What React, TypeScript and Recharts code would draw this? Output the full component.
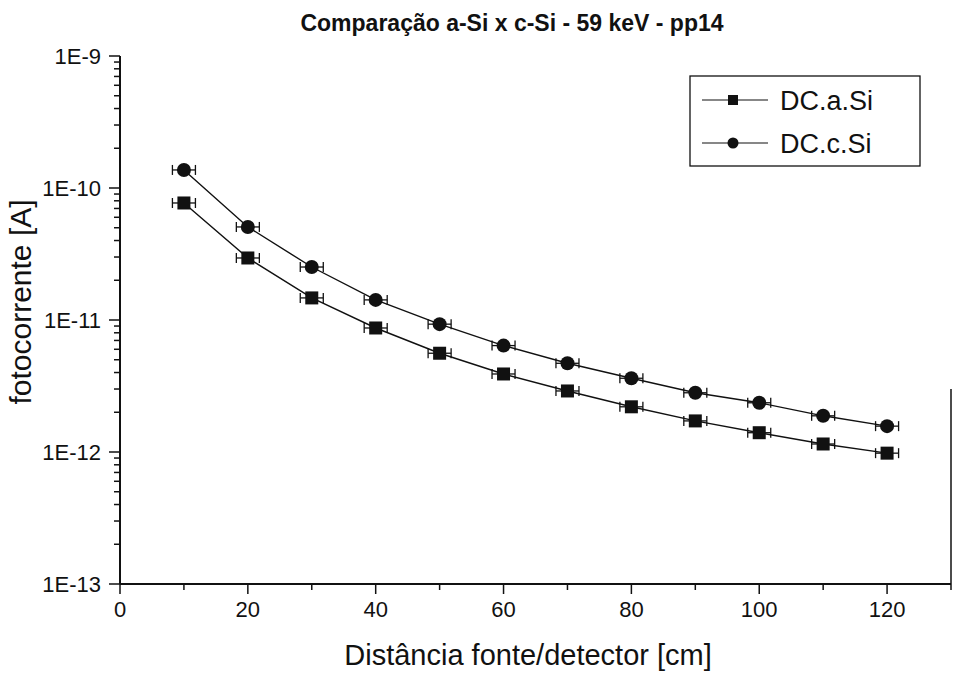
import { ComposedChart, Line, Scatter, XAxis, YAxis, ErrorBar, ReferenceLine } from 'recharts'

// distance source/detector [cm]
const distances = [10, 20, 30, 40, 50, 60, 70, 80, 90, 100, 110, 120]
// photocurrent [A]
const aSi = [7.7e-11, 2.95e-11, 1.47e-11, 8.7e-12, 5.6e-12, 3.9e-12, 2.9e-12, 2.2e-12, 1.72e-12, 1.4e-12, 1.15e-12, 9.8e-13]
const cSi = [1.37e-10, 5.07e-11, 2.52e-11, 1.42e-11, 9.3e-12, 6.4e-12, 4.7e-12, 3.62e-12, 2.81e-12, 2.36e-12, 1.88e-12, 1.57e-12]
// horizontal error [cm]
const xErr = [1.8, 1.8, 1.8, 1.8, 1.8, 1.8, 1.8, 1.8, 1.8, 1.8, 1.8, 1.8]

const xTicks = [0, 10, 20, 30, 40, 50, 60, 70, 80, 90, 100, 110, 120, 130]
const xLabels = ['0', '', '20', '', '40', '', '60', '', '80', '', '100', '', '120', '']
const yMajor = [1e-13, 1e-12, 1e-11, 1e-10, 1e-9]
const yLabels = ['1E-13', '1E-12', '1E-11', '1E-10', '1E-9']

const yTicks: number[] = []
yMajor.forEach((m, i) => {
  yTicks.push(m)
  if (i < yMajor.length - 1) {
    for (let k = 2; k <= 9; k++) yTicks.push(Number((m * k).toPrecision(3)))
  }
})

const rows = distances.map((d, i) => ({ d, aSi: aSi[i], cSi: cSi[i], dx: xErr[i] }))

const FONT = '"Liberation Sans", Arial, sans-serif'
const INK = '#111'

const YTick = (props: any) => {
  const { x, y, payload } = props
  const idx = yMajor.indexOf(payload.value)
  const major = idx >= 0
  return (
    <g>
      <line x1={x} x2={x - (major ? 11 : 6)} y1={y} y2={y} stroke={INK} strokeWidth={1.5} />
      {major && (
        <text x={x - 19} y={y} dy="0.36em" textAnchor="end" fontSize={22} fontFamily={FONT} fill={INK}>
          {yLabels[idx]}
        </text>
      )}
    </g>
  )
}

const XTick = (props: any) => {
  const { x, y, payload } = props
  const idx = xTicks.indexOf(payload.value)
  const label = xLabels[idx]
  return (
    <g>
      <line x1={x} x2={x} y1={y} y2={y + (label ? 10 : 6)} stroke={INK} strokeWidth={1.5} />
      {label && (
        <text x={x} y={y + 15} dy="0.8em" textAnchor="middle" fontSize={22} fontFamily={FONT} fill={INK}>
          {label}
        </text>
      )}
    </g>
  )
}

const SquareDot = (props: any) => {
  const { cx, cy } = props
  if (cx == null || cy == null) return null
  return <rect x={cx - 6.5} y={cy - 6.5} width={13} height={13} fill={INK} />
}

const CircleDot = (props: any) => {
  const { cx, cy } = props
  if (cx == null || cy == null) return null
  return <circle cx={cx} cy={cy} r={7} fill={INK} />
}

function LegendBox() {
  const items = [
    { name: 'DC.a.Si', shape: 'square' },
    { name: 'DC.c.Si', shape: 'circle' },
  ]
  return (
    <svg width={953} height={679} style={{ position: 'absolute', left: 0, top: 0, pointerEvents: 'none' }}>
      <rect x={690} y={76} width={230} height={90} fill="#fff" stroke={INK} strokeWidth={1.3} />
      {items.map((it, i) => {
        const cy = 100 + i * 43
        return (
          <g key={it.name}>
            <line x1={702} x2={768} y1={cy} y2={cy} stroke={INK} strokeWidth={1.2} />
            {it.shape === 'square' ? (
              <rect x={728} y={cy - 5} width={10} height={10} fill={INK} />
            ) : (
              <circle cx={733} cy={cy} r={5.5} fill={INK} />
            )}
            <text x={780} y={cy} dy="0.36em" fontSize={27} fontFamily={FONT} fill={INK}>
              {it.name}
            </text>
          </g>
        )
      })}
    </svg>
  )
}

export default function App() {
  return (
    <div style={{ position: 'absolute', left: 0, top: 0, width: 953, height: 679, background: '#fff' }}>
      <ComposedChart width={953} height={679} data={rows} margin={{ top: 56, right: 2, bottom: 0, left: 0 }}>
        <XAxis
          xAxisId="top"
          orientation="top"
          dataKey="d"
          type="number"
          domain={[0, 130]}
          height={0}
          tick={false}
          tickLine={false}
          axisLine={{ stroke: '#555', strokeWidth: 1.2 }}
        />
        <XAxis
          dataKey="d"
          type="number"
          domain={[0, 130]}
          ticks={xTicks}
          interval={0}
          height={95}
          tick={<XTick />}
          tickLine={false}
          tickSize={0}
          tickMargin={0}
          axisLine={{ stroke: INK, strokeWidth: 2 }}
        />
        <YAxis
          scale="log"
          domain={[1e-13, 1e-9]}
          allowDataOverflow
          ticks={yTicks}
          interval={0}
          width={120}
          tick={<YTick />}
          tickLine={false}
          tickSize={0}
          tickMargin={0}
          axisLine={{ stroke: INK, strokeWidth: 2 }}
        />
        <ReferenceLine
          segment={[{ x: 130, y: 3e-12 }, { x: 130, y: 1e-13 }]}
          stroke={INK}
          strokeWidth={1.5}
          ifOverflow="visible"
        />
        <Line dataKey="aSi" type="linear" stroke={INK} strokeWidth={1.4} dot={false} activeDot={false} isAnimationActive={false} />
        <Line dataKey="cSi" type="linear" stroke={INK} strokeWidth={1.4} dot={false} activeDot={false} isAnimationActive={false} />
        <Scatter dataKey="aSi" shape={<SquareDot />} isAnimationActive={false}>
          <ErrorBar dataKey="dx" direction="x" width={5} stroke={INK} strokeWidth={1.3} />
        </Scatter>
        <Scatter dataKey="cSi" shape={<CircleDot />} isAnimationActive={false}>
          <ErrorBar dataKey="dx" direction="x" width={5} stroke={INK} strokeWidth={1.3} />
        </Scatter>
        <text x={512} y={23} dy="0.35em" textAnchor="middle" fontSize={23} fontWeight="bold" fontFamily={FONT} fill={INK}>
          Comparação a-Si x c-Si - 59 keV - pp14
        </text>
        <text x={528} y={655} dy="0.35em" textAnchor="middle" fontSize={29} fontFamily={FONT} fill={INK}>
          Distância fonte/detector [cm]
        </text>
        <text transform="translate(31,302) rotate(-90)" textAnchor="middle" fontSize={30} fontFamily={FONT} fill={INK}>
          fotocorrente [A]
        </text>
      </ComposedChart>
      <LegendBox />
    </div>
  )
}
